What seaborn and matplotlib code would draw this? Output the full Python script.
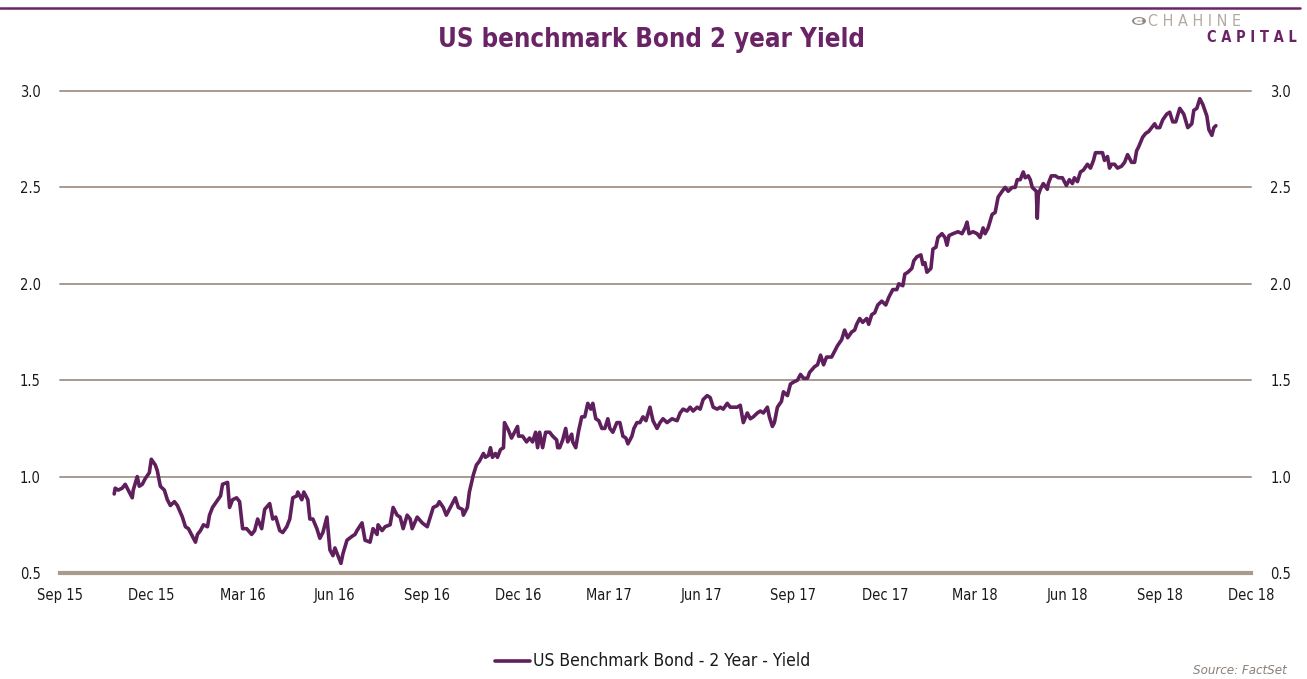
import matplotlib
matplotlib.use("Agg")
import matplotlib.pyplot as plt
import matplotlib.dates as mdates
from matplotlib.lines import Line2D
from matplotlib.patches import Circle, Wedge
import pandas as pd
import seaborn as sns

# US 2-year benchmark yield (%), sampled from the series
dates = [
    "2015-10-25", "2015-10-26", "2015-10-29", "2015-11-02", "2015-11-05", "2015-11-08",
    "2015-11-12", "2015-11-13", "2015-11-17", "2015-11-19", "2015-11-22", "2015-11-25",
    "2015-11-29", "2015-12-01", "2015-12-05", "2015-12-07", "2015-12-10", "2015-12-14",
    "2015-12-17", "2015-12-20", "2015-12-24", "2015-12-27",
    "2016-01-01", "2016-01-04", "2016-01-07", "2016-01-11", "2016-01-14", "2016-01-16",
    "2016-01-19", "2016-01-22", "2016-01-26", "2016-01-28", "2016-01-31",
    "2016-02-04", "2016-02-08", "2016-02-10", "2016-02-15", "2016-02-17", "2016-02-20",
    "2016-02-24", "2016-02-27",
    "2016-03-01", "2016-03-05", "2016-03-10", "2016-03-13", "2016-03-16", "2016-03-20",
    "2016-03-23", "2016-03-28", "2016-03-31",
    "2016-04-03", "2016-04-07", "2016-04-10", "2016-04-14", "2016-04-17", "2016-04-20",
    "2016-04-24", "2016-04-25", "2016-04-29",
    "2016-05-01", "2016-05-05", "2016-05-07", "2016-05-10", "2016-05-14", "2016-05-17",
    "2016-05-20", "2016-05-24", "2016-05-27", "2016-05-30",
    "2016-06-01", "2016-06-04", "2016-06-07", "2016-06-09", "2016-06-13", "2016-06-18",
    "2016-06-21", "2016-06-23", "2016-06-28",
    "2016-07-01", "2016-07-06", "2016-07-09", "2016-07-13", "2016-07-14", "2016-07-18",
    "2016-07-21", "2016-07-26", "2016-07-29",
    "2016-08-02", "2016-08-05", "2016-08-08", "2016-08-12", "2016-08-15", "2016-08-17",
    "2016-08-22", "2016-08-27",
    "2016-09-01", "2016-09-04", "2016-09-07", "2016-09-11", "2016-09-13", "2016-09-17",
    "2016-09-20", "2016-09-24", "2016-09-29",
    "2016-10-02", "2016-10-06", "2016-10-07", "2016-10-11", "2016-10-13", "2016-10-17",
    "2016-10-20", "2016-10-23", "2016-10-27", "2016-10-29",
    "2016-11-01", "2016-11-03", "2016-11-05", "2016-11-08", "2016-11-10", "2016-11-13",
    "2016-11-16", "2016-11-17", "2016-11-21", "2016-11-24", "2016-11-26", "2016-11-30",
    "2016-12-01", "2016-12-05", "2016-12-09", "2016-12-12", "2016-12-15", "2016-12-18",
    "2016-12-20", "2016-12-22", "2016-12-25", "2016-12-28",
    "2017-01-01", "2017-01-04", "2017-01-08", "2017-01-09", "2017-01-11", "2017-01-14",
    "2017-01-17", "2017-01-19", "2017-01-23", "2017-01-24", "2017-01-27", "2017-01-30",
    "2017-02-02", "2017-02-05", "2017-02-08", "2017-02-11", "2017-02-13", "2017-02-16",
    "2017-02-19", "2017-02-22", "2017-02-25", "2017-02-28",
    "2017-03-02", "2017-03-05", "2017-03-09", "2017-03-12", "2017-03-15", "2017-03-18",
    "2017-03-20", "2017-03-24", "2017-03-26", "2017-03-29",
    "2017-04-01", "2017-04-04", "2017-04-07", "2017-04-11", "2017-04-14", "2017-04-18",
    "2017-04-21", "2017-04-24", "2017-04-28",
    "2017-05-03", "2017-05-08", "2017-05-11", "2017-05-14", "2017-05-18", "2017-05-21",
    "2017-05-24", "2017-05-28", "2017-05-31",
    "2017-06-03", "2017-06-07", "2017-06-10", "2017-06-13", "2017-06-17", "2017-06-20",
    "2017-06-23", "2017-06-27", "2017-06-30",
    "2017-07-03", "2017-07-07", "2017-07-10", "2017-07-13", "2017-07-17", "2017-07-20",
    "2017-07-23", "2017-07-27", "2017-07-30",
    "2017-08-02", "2017-08-06", "2017-08-08", "2017-08-11", "2017-08-13", "2017-08-16",
    "2017-08-20", "2017-08-22", "2017-08-26", "2017-08-29",
    "2017-09-01", "2017-09-05", "2017-09-08", "2017-09-11", "2017-09-15", "2017-09-17",
    "2017-09-22", "2017-09-25", "2017-09-28",
    "2017-10-01", "2017-10-04", "2017-10-09", "2017-10-12", "2017-10-15", "2017-10-19",
    "2017-10-22", "2017-10-25", "2017-10-29",
    "2017-11-01", "2017-11-03", "2017-11-06", "2017-11-09", "2017-11-13", "2017-11-15",
    "2017-11-18", "2017-11-21", "2017-11-24", "2017-11-28",
    "2017-12-02", "2017-12-05", "2017-12-09", "2017-12-13", "2017-12-15", "2017-12-19",
    "2017-12-21", "2017-12-24", "2017-12-28", "2017-12-30",
    "2018-01-02", "2018-01-06", "2018-01-08", "2018-01-10", "2018-01-12", "2018-01-16",
    "2018-01-18", "2018-01-21", "2018-01-23", "2018-01-27", "2018-01-30",
    "2018-02-01", "2018-02-03", "2018-02-07", "2018-02-12", "2018-02-16", "2018-02-19",
    "2018-02-21", "2018-02-23", "2018-02-27",
    "2018-03-03", "2018-03-06", "2018-03-09", "2018-03-11", "2018-03-14", "2018-03-18",
    "2018-03-21", "2018-03-24", "2018-03-28", "2018-03-31",
    "2018-04-03", "2018-04-07", "2018-04-10", "2018-04-12", "2018-04-15", "2018-04-18",
    "2018-04-20", "2018-04-23", "2018-04-25", "2018-04-27", "2018-04-29",
    "2018-05-01", "2018-05-02", "2018-05-03", "2018-05-05", "2018-05-08", "2018-05-12",
    "2018-05-13", "2018-05-16", "2018-05-20", "2018-05-23", "2018-05-27", "2018-05-31",
    "2018-06-03", "2018-06-06", "2018-06-08", "2018-06-11", "2018-06-14", "2018-06-17",
    "2018-06-21", "2018-06-24", "2018-06-27", "2018-06-29",
    "2018-07-02", "2018-07-06", "2018-07-08", "2018-07-11", "2018-07-13", "2018-07-15",
    "2018-07-18", "2018-07-21", "2018-07-25", "2018-07-28", "2018-07-31",
    "2018-08-04", "2018-08-07", "2018-08-09", "2018-08-11", "2018-08-15", "2018-08-18",
    "2018-08-21", "2018-08-24", "2018-08-27", "2018-08-29",
    "2018-09-01", "2018-09-04", "2018-09-08", "2018-09-11", "2018-09-14", "2018-09-17",
    "2018-09-21", "2018-09-25", "2018-09-29",
    "2018-10-03", "2018-10-05", "2018-10-08", "2018-10-11", "2018-10-14", "2018-10-18",
    "2018-10-20", "2018-10-23", "2018-10-25", "2018-10-27",
]

yields = [
    0.91, 0.94, 0.93, 0.94, 0.96, 0.93,
    0.89, 0.93, 1.00, 0.95, 0.96, 0.99,
    1.02, 1.09, 1.06, 1.03, 0.95, 0.93,
    0.88, 0.85, 0.87, 0.85,
    0.79, 0.74, 0.73, 0.69, 0.66, 0.70,
    0.72, 0.75, 0.74, 0.80, 0.84,
    0.87, 0.90, 0.96, 0.97, 0.84, 0.88,
    0.89, 0.87,
    0.73, 0.73, 0.70, 0.72, 0.78, 0.73,
    0.83, 0.86, 0.78,
    0.79, 0.72, 0.71, 0.74, 0.78, 0.89,
    0.90, 0.92, 0.88,
    0.92, 0.88, 0.78, 0.78, 0.73, 0.68,
    0.71, 0.79, 0.62, 0.59,
    0.63, 0.59, 0.55, 0.60, 0.67, 0.69,
    0.70, 0.72, 0.76,
    0.67, 0.66, 0.73, 0.70, 0.75, 0.72,
    0.74, 0.75, 0.84,
    0.80, 0.79, 0.73, 0.80, 0.78, 0.73,
    0.79, 0.76,
    0.74, 0.79, 0.84, 0.85, 0.87, 0.84,
    0.80, 0.84, 0.89,
    0.84, 0.83, 0.80, 0.84, 0.92, 1.01,
    1.06, 1.08, 1.12, 1.10,
    1.11, 1.15, 1.10, 1.12, 1.10, 1.14,
    1.15, 1.28, 1.24, 1.20, 1.22, 1.26,
    1.21, 1.21, 1.18, 1.20, 1.18, 1.23,
    1.15, 1.23, 1.15, 1.23,
    1.23, 1.21, 1.19, 1.15, 1.15, 1.19,
    1.25, 1.18, 1.22, 1.18, 1.15, 1.24,
    1.31, 1.31, 1.38, 1.35, 1.38, 1.30,
    1.29, 1.25, 1.25, 1.30,
    1.25, 1.23, 1.28, 1.28, 1.21, 1.20,
    1.17, 1.21, 1.25, 1.28,
    1.28, 1.31, 1.29, 1.36, 1.29, 1.25,
    1.28, 1.30, 1.28,
    1.30, 1.29, 1.33, 1.35, 1.34, 1.36,
    1.34, 1.36, 1.35,
    1.40, 1.42, 1.41, 1.36, 1.35, 1.36,
    1.35, 1.38, 1.36,
    1.36, 1.36, 1.37, 1.28, 1.33, 1.30,
    1.31, 1.33, 1.34,
    1.33, 1.36, 1.31, 1.26, 1.28, 1.36,
    1.39, 1.44, 1.42, 1.48,
    1.49, 1.50, 1.53, 1.51, 1.51, 1.54,
    1.57, 1.58, 1.63,
    1.58, 1.62, 1.62, 1.65, 1.68, 1.71,
    1.76, 1.72, 1.75,
    1.76, 1.79, 1.82, 1.80, 1.82, 1.79,
    1.84, 1.85, 1.89, 1.91,
    1.89, 1.93, 1.97, 1.97, 2.00, 1.99,
    2.05, 2.06, 2.08, 2.12,
    2.14, 2.15, 2.10, 2.11, 2.06, 2.08,
    2.18, 2.19, 2.24, 2.26, 2.24,
    2.20, 2.25, 2.26, 2.27, 2.26, 2.29,
    2.32, 2.26, 2.27,
    2.26, 2.24, 2.29, 2.26, 2.29, 2.36,
    2.37, 2.45, 2.48, 2.50,
    2.48, 2.50, 2.50, 2.54, 2.54, 2.58,
    2.55, 2.56, 2.54, 2.50, 2.49,
    2.48, 2.34, 2.46, 2.49, 2.52, 2.49,
    2.52, 2.56, 2.56, 2.55, 2.55, 2.51,
    2.54, 2.52, 2.55, 2.53, 2.58, 2.59,
    2.62, 2.60, 2.64, 2.68,
    2.68, 2.68, 2.64, 2.66, 2.60, 2.62,
    2.62, 2.60, 2.61, 2.63, 2.67,
    2.63, 2.63, 2.69, 2.71, 2.76, 2.78,
    2.79, 2.81, 2.83, 2.81,
    2.81, 2.85, 2.88, 2.89, 2.84, 2.84,
    2.91, 2.88, 2.81,
    2.83, 2.90, 2.91, 2.96, 2.93, 2.87,
    2.80, 2.77, 2.81, 2.82,
]

series_label = "US Benchmark Bond - 2 Year - Yield"
y_ticks = [0.5, 1.0, 1.5, 2.0, 2.5, 3.0]
x_ticks = pd.date_range("2015-09-01", "2018-12-01", freq="3MS")

PURPLE = "#6a2466"
LINE = "#5e1f5c"
GRID = "#a89a8c"
TEXT = "#1a1a1a"

df = pd.DataFrame({"date": pd.to_datetime(dates), "yield": yields})

sns.set_style("white")
plt.rcParams["font.family"] = ["DejaVu Sans"]
plt.rcParams["font.stretch"] = "condensed"

fig = plt.figure(figsize=(13.07, 6.79), dpi=100)
ax = fig.add_axes([60 / 1307, 1 - 573 / 679, (1251 - 60) / 1307, (573 - 91) / 679])

sns.lineplot(data=df, x="date", y="yield", ax=ax, color=LINE, linewidth=2.6,
             legend=False)

ax.set_xlim(pd.Timestamp("2015-09-01"), pd.Timestamp("2018-12-01"))
ax.set_ylim(0.5, 3.0)
ax.set_xlabel("")
ax.set_ylabel("")

for v in y_ticks[1:]:
    ax.axhline(v, color=GRID, linewidth=1.4, zorder=0, clip_on=False)

for side in ["top", "right", "left"]:
    ax.spines[side].set_visible(False)
ax.spines["bottom"].set_color(GRID)
ax.spines["bottom"].set_linewidth(3)

ax.set_xticks(x_ticks)
ax.xaxis.set_major_formatter(mdates.DateFormatter("%b %y"))
ax.tick_params(axis="x", length=5, width=2, color=GRID, pad=6,
               labelsize=10.5, labelcolor=TEXT, direction="out")

ax.set_yticks(y_ticks)
ax.yaxis.set_major_formatter(matplotlib.ticker.FormatStrFormatter("%.1f"))
ax.tick_params(axis="y", length=0, pad=14, labelsize=10.5, labelcolor=TEXT,
               left=True, right=True, labelleft=True, labelright=True)

# header rule and title
fig.add_artist(Line2D([0.0, 1300 / 1307], [1 - 8 / 679, 1 - 8 / 679],
                      color=PURPLE, linewidth=1.8))
fig.text(651 / 1307, 1 - 40 / 679, "US benchmark Bond 2 year Yield",
         ha="center", va="center", fontsize=18.5, fontweight="bold",
         color=PURPLE)

# company mark
fig.text(1148 / 1307, 1 - 21 / 679, "C H A H I N E", ha="left", va="center",
         fontsize=11.5, color="#b3aaa2")
fig.text(1297 / 1307, 1 - 37 / 679, "C A P I T A L", ha="right", va="center",
         fontsize=10.5, color=PURPLE, fontweight="bold")
fig.add_artist(Circle((1139 / 1307, 1 - 21 / 679), 0.0048, transform=fig.transFigure,
                      color="#8f8a86"))
fig.add_artist(Wedge((1139 / 1307, 1 - 21 / 679), 0.0032, 40, 320, width=0.0014,
                     transform=fig.transFigure, color="white"))

# legend and source note
fig.add_artist(Line2D([495 / 1307, 530 / 1307], [1 - 661 / 679, 1 - 661 / 679],
                      color=LINE, linewidth=2.6))
fig.text(533 / 1307, 1 - 661 / 679, series_label, ha="left", va="center",
         fontsize=12.5, color=TEXT)
fig.text(1287 / 1307, 1 - 671 / 679, "Source: FactSet", ha="right", va="center",
         fontsize=9.5, color="#8a8178", style="italic")

fig.savefig("out.png", dpi=100)
